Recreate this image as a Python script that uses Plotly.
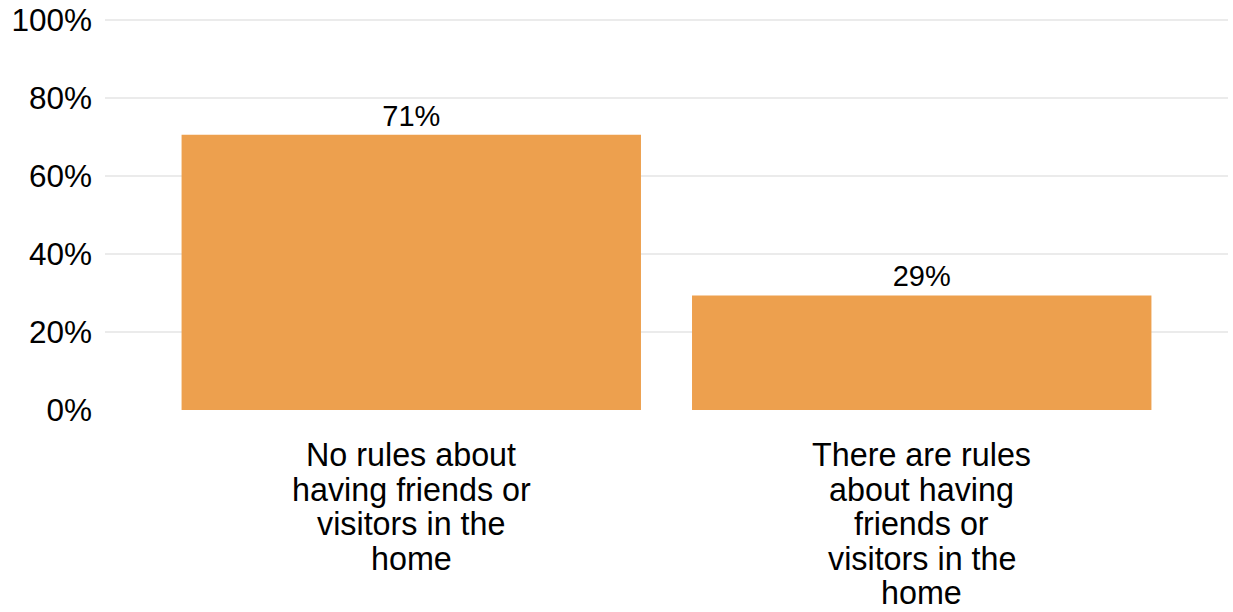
import plotly.graph_objects as go

categories = ["No rules about<br>having friends or<br>visitors in the<br>home",
              "There are rules<br>about having<br>friends or<br>visitors in the<br>home"]
values = [70.6, 29.4]
value_labels = ["71%", "29%"]
y_ticks = [0, 20, 40, 60, 80, 100]
y_tick_labels = ["0%", "20%", "40%", "60%", "80%", "100%"]

bar_color = "#EDA04E"
font_family = "Liberation Sans, Arial, sans-serif"

x_pos = list(range(len(categories)))

fig = go.Figure()
fig.add_trace(go.Bar(
    x=x_pos, y=values, marker_color=bar_color, marker_line_width=0,
    text=value_labels, textposition="outside", cliponaxis=False,
    textfont=dict(size=29, color="#000000", family=font_family),
    width=0.9, hoverinfo="skip",
))

line_gap = 34.5
for i, cat in enumerate(categories):
    for j, line in enumerate(cat.split("<br>")):
        fig.add_annotation(x=x_pos[i], y=0, xref="x", yref="y", text=line,
                           showarrow=False, yanchor="middle", yshift=-(45 + line_gap * j),
                           font=dict(size=32.3, color="#000000", family=font_family))

fig.update_layout(
    width=1233, height=612,
    margin=dict(l=105, r=5, t=19, b=202, autoexpand=False),
    paper_bgcolor="white", plot_bgcolor="white",
    showlegend=False,
    font=dict(family=font_family, color="#000000"),
    xaxis=dict(range=[-0.6, 1.6], showticklabels=False, showgrid=False,
               zeroline=False, showline=False, tickvals=[], automargin=False),
    yaxis=dict(range=[0, 100.3], tickvals=y_ticks, ticktext=y_tick_labels,
               showgrid=True, gridcolor="#EBEBEB", gridwidth=2,
               zeroline=False, showline=False, ticklabelstandoff=12, automargin=False,
               ticklabeloverflow="allow",
               tickfont=dict(size=31.5, color="#000000", family=font_family)),
)

fig.write_html("out.html", config={"displayModeBar": False},
               post_script="document.body.style.margin='0';")
